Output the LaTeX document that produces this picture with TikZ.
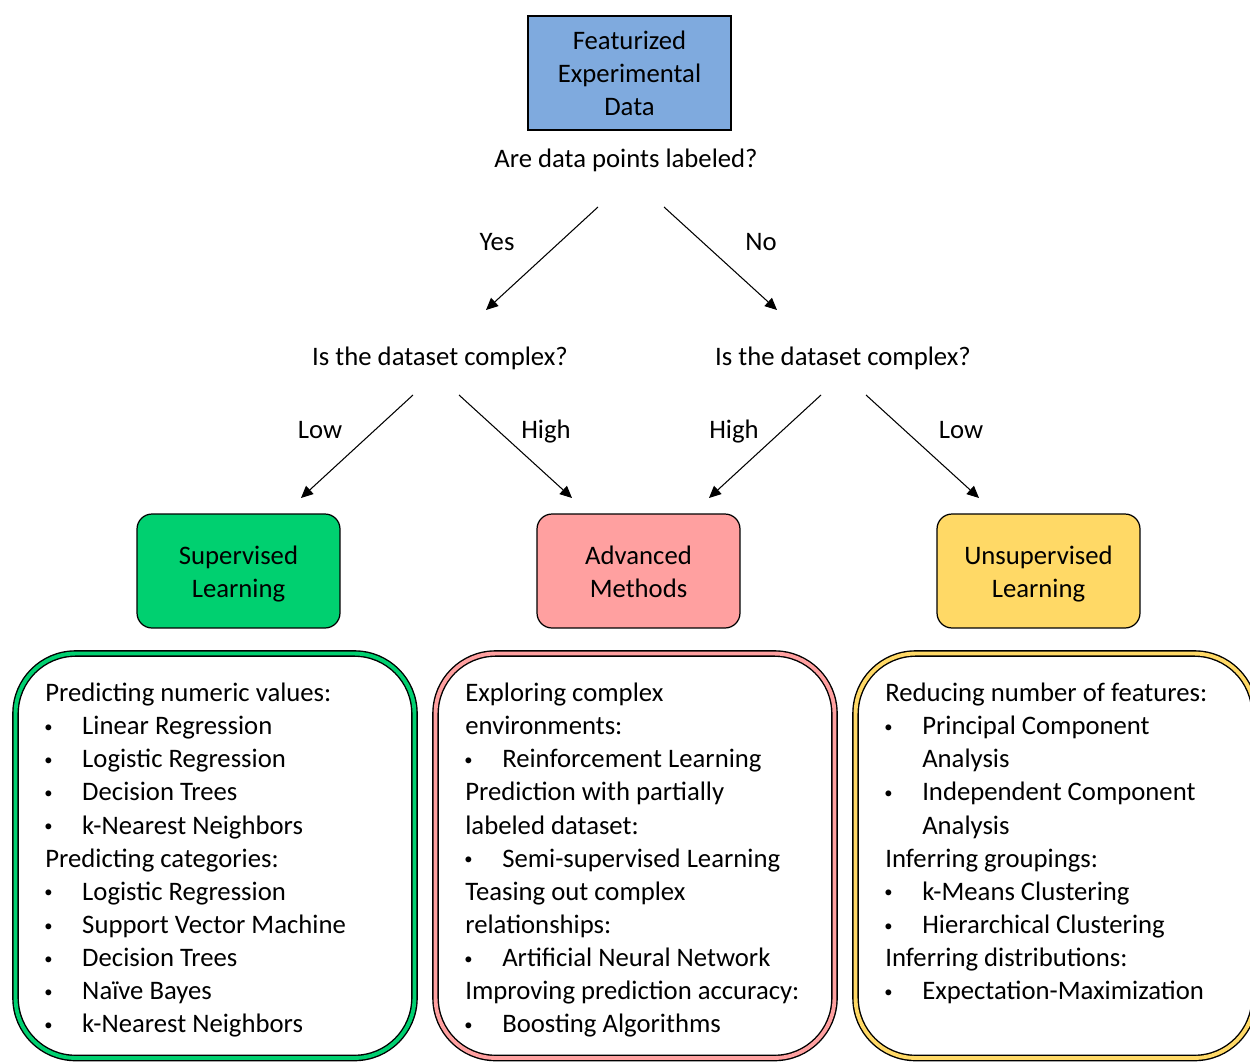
\documentclass[tikz,border=0pt]{standalone}
\usepackage{fontspec}
\usepackage{graphicx}
\setmainfont{Carlito}
\usetikzlibrary{arrows.meta,positioning}
\definecolor{ink}{RGB}{0,0,0}
\definecolor{topblue}{RGB}{127,170,222}
\definecolor{supgrn}{RGB}{0,208,112}
\definecolor{advpink}{RGB}{255,160,160}
\definecolor{unsyel}{RGB}{255,217,102}
\tikzset{
  txt/.style={font=\fontsize{15.2}{18.8}\selectfont,inner sep=0pt},
  ques/.style={txt,text height=9.8pt,text depth=0pt},
  lbl/.style={ques},
  topbox/.style={txt,draw=ink,line width=0.7pt,align=center,
    minimum width=4.06cm,minimum height=2.28cm},
  catbox/.style={topbox,rounded corners=0.3cm},
  listbox/.style={draw=ink,line width=0.8pt,double distance=2.2pt,fill=white,
    rounded corners=1.2cm,minimum width=7.98cm,minimum height=8.09cm},
  listtxt/.style={txt,align=left,anchor=north west},
  arr/.style={-{Triangle[length=2.4mm,width=2.2mm]},line width=0.6pt,ink},
}
\newcommand{\itm}[1]{\makebox[21pt][l]{\hspace*{-0.6pt}\raisebox{1.2pt}{\scalebox{0.62}{\textbullet}}}#1}
\newcommand{\cnt}[1]{\hspace*{21pt}#1}
\newcommand{\twoline}[2]{\rule{0pt}{11pt}#1\\\smash{#2}}

\begin{document}
\begin{tikzpicture}[x=0.02cm,y=-0.02cm]
\useasboundingbox (0,0) rectangle (1250,1061);
% top: the data and the first question
\node[topbox,fill=topblue] (data) at (629.5,73) {Featurized\\Experimental\\Data};
\node[ques] (qlab) at (626,159) {Are data points labeled?};
\node[ques] (qsup) at (440,357) {Is the dataset complex?};
\node[ques] (quns) at (843,357) {Is the dataset complex?};
\coordinate (yes0) at (598,207);
\coordinate (yes1) at (486,310);
\coordinate (no0) at (664,207);
\coordinate (no1) at (777,310);
\draw[arr] (yes0) -- (yes1);
\draw[arr] (no0) -- (no1);
\node[lbl] (yes) at (497,242) {Yes};
\node[lbl] (no) at (761,242) {No};
% second level: how complex is the dataset
\coordinate (sl0) at (413,395);
\coordinate (sl1) at (301,498);
\coordinate (sh0) at (459,395);
\coordinate (sh1) at (572,498);
\coordinate (uh0) at (821,395);
\coordinate (uh1) at (709,498);
\coordinate (ul0) at (866,395);
\coordinate (ul1) at (979,498);
\draw[arr] (sl0) -- (sl1);
\draw[arr] (sh0) -- (sh1);
\draw[arr] (uh0) -- (uh1);
\draw[arr] (ul0) -- (ul1);
\node[lbl] (slow) at (320,430) {Low};
\node[lbl] (shigh) at (546,430) {High};
\node[lbl] (uhigh) at (734,430) {High};
\node[lbl] (ulow) at (961,430) {Low};
% the three families of methods
\node[catbox,fill=supgrn] (sup) at (238.5,571) {\twoline{Supervised}{Learning}};
\node[catbox,fill=advpink] (adv) at (638.5,571) {\twoline{Advanced}{Methods}};
\node[catbox,fill=unsyel] (uns) at (1038.5,571) {\twoline{Unsupervised}{Learning}};
% lists of methods
\node[listbox,double=supgrn] (suplist) at (215,855.75) {};
\node[listbox,double=advpink] (advlist) at (635,855.75) {};
\node[listbox,double=unsyel] (unslist) at (1055,855.75) {};
\node[listtxt] (suptxt) at (45,683) {Predicting numeric values:\\
  \itm{Linear Regression}\\
  \itm{Logistic Regression}\\
  \itm{Decision Trees}\\
  \itm{k-Nearest Neighbors}\\
  Predicting categories:\\
  \itm{Logistic Regression}\\
  \itm{Support Vector Machine}\\
  \itm{Decision Trees}\\
  \itm{Naïve Bayes}\\
  \itm{k-Nearest Neighbors}};
\node[listtxt] (advtxt) at (465,683) {Exploring complex\\
  environments:\\
  \itm{Reinforcement Learning}\\
  Prediction with partially\\
  labeled dataset:\\
  \itm{Semi-supervised Learning}\\
  Teasing out complex\\
  relationships:\\
  \itm{Artificial Neural Network}\\
  Improving prediction accuracy:\\
  \itm{Boosting Algorithms}};
\node[listtxt] (unstxt) at (885,683) {Reducing number of features:\\
  \itm{Principal Component}\\
  \cnt{Analysis}\\
  \itm{Independent Component}\\
  \cnt{Analysis}\\
  Inferring groupings:\\
  \itm{k-Means Clustering}\\
  \itm{Hierarchical Clustering}\\
  Inferring distributions:\\
  \itm{Expectation-Maximization}};
\end{tikzpicture}
\end{document}
